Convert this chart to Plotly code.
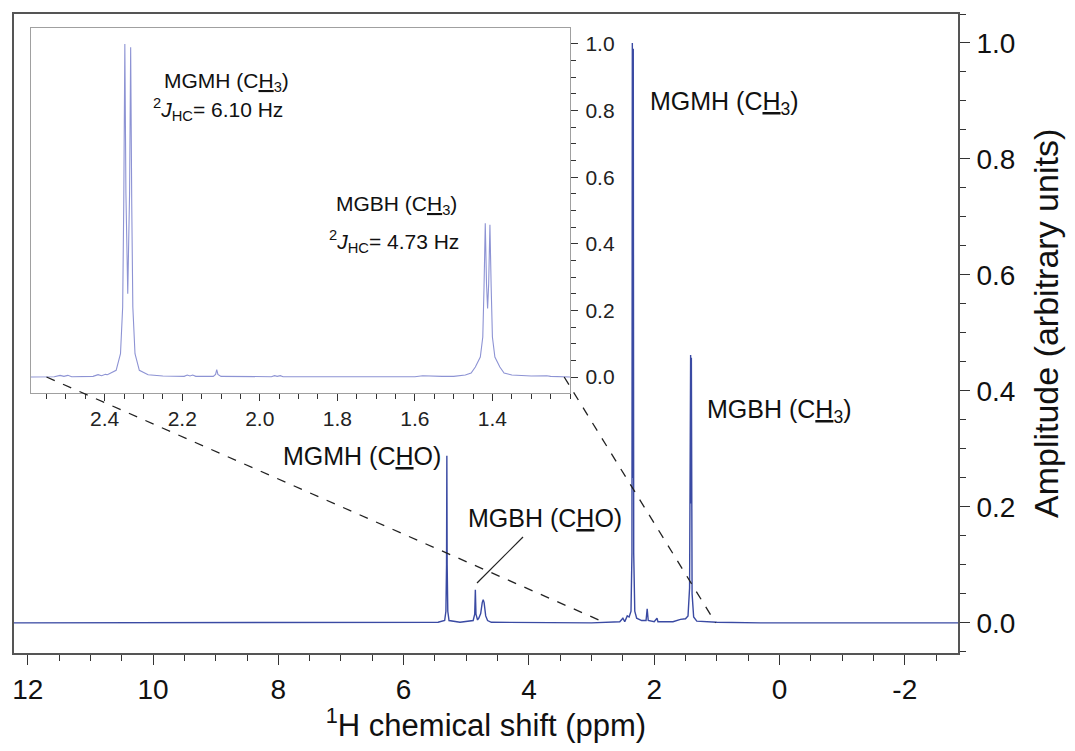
import plotly.graph_objects as go

# ---------------- data ----------------
# full spectrum (main panel): chemical shift (ppm) and normalized amplitude
main_ppm = [12.22, 9.0, 6.0, 5.45, 5.345, 5.325, 5.315, 5.310, 5.305, 5.295, 5.275,
            5.10, 4.89, 4.865, 4.855, 4.845, 4.82, 4.80, 4.77, 4.745, 4.73, 4.715,
            4.69, 4.66, 4.60, 3.0, 2.55, 2.50, 2.47, 2.43, 2.40, 2.37, 2.355, 2.349,
            2.3405, 2.334, 2.327, 2.31, 2.28, 2.20, 2.13, 2.112, 2.095, 2.0, 1.955,
            1.94, 1.70, 1.58, 1.50, 1.46, 1.435, 1.4185, 1.4125, 1.4065, 1.395, 1.37,
            1.32, 1.0, 0.3, -1.5, -2.85]
main_amp = [0.0, 0.0, 0.0, 0.001, 0.004, 0.02, 0.10, 0.288, 0.10, 0.02, 0.004,
            0.001, 0.004, 0.015, 0.057, 0.015, 0.005, 0.008, 0.016, 0.035, 0.040, 0.035,
            0.012, 0.004, 0.001, 0.0, 0.002, 0.008, 0.002, 0.012, 0.010, 0.02, 0.12, 1.0,
            0.25, 0.99, 0.12, 0.02, 0.008, 0.004, 0.004, 0.024, 0.004, 0.002, 0.008,
            0.002, 0.002, 0.006, 0.007, 0.012, 0.06, 0.462, 0.206, 0.457, 0.05, 0.01,
            0.003, 0.001, 0.0, 0.0, 0.0]

# expanded region (inset): 2.59 - 1.20 ppm
inset_ppm = [2.59, 2.53, 2.515, 2.505, 2.495, 2.485, 2.43, 2.417, 2.408, 2.398, 2.393,
             2.3704, 2.3592, 2.3536, 2.3508, 2.348, 2.3452, 2.3405, 2.3358, 2.333,
             2.3302, 2.3274, 2.3218, 2.3106, 2.288, 2.25, 2.195, 2.187, 2.18, 2.173,
             2.165, 2.12, 2.114, 2.111, 2.108, 2.10, 1.97, 1.962, 1.955, 1.947, 1.94,
             1.60, 1.58, 1.565, 1.555, 1.53, 1.50, 1.47, 1.455, 1.4441, 1.4313, 1.4249,
             1.4217, 1.4185, 1.4153, 1.4125, 1.4097, 1.4065, 1.4033, 1.4001, 1.3937,
             1.3809, 1.37, 1.35, 1.30, 1.26, 1.25, 1.20]
inset_amp = [0.0, 0.001, 0.005, 0.002, 0.005, 0.001, 0.002, 0.007, 0.004, 0.008, 0.007,
             0.02, 0.07, 0.21, 0.52, 1.0, 0.55, 0.25, 0.55, 0.99,
             0.52, 0.21, 0.07, 0.02, 0.007, 0.003, 0.002, 0.006, 0.003, 0.006,
             0.002, 0.002, 0.008, 0.022, 0.008, 0.002, 0.001, 0.004, 0.002, 0.004, 0.001,
             0.001, 0.004, 0.003, 0.004, 0.002, 0.002, 0.006, 0.012, 0.03, 0.06, 0.12,
             0.27, 0.462, 0.28, 0.206, 0.28, 0.457, 0.27, 0.12, 0.06,
             0.03, 0.012, 0.006, 0.003, 0.004, 0.002, 0.0]

main_xticks = [12, 10, 8, 6, 4, 2, 0, -2]
main_yticks = [0.0, 0.2, 0.4, 0.6, 0.8, 1.0]
inset_xticks = [2.4, 2.2, 2.0, 1.8, 1.6, 1.4]
inset_yticks = [0.0, 0.2, 0.4, 0.6, 0.8, 1.0]

# zoom-connector anchors: (inset ppm, main ppm)
zoom_left = (2.55, 2.78)
zoom_right = (1.215, 1.02)

# ---------------- layout geometry ----------------
OFF = 8  # default page body margin in the written html
W, H = 1075 - 2 * OFF, 751 - 2 * OFF
L, R, T, B = 14 - OFF, 958 - OFF, 14 - OFF, 653 - OFF
MX = [12.22, -2.85]
MY = [-0.052, 1.05]
IX = [2.59, 1.20]
IY = [-0.048, 1.048]


def px(x):
    """page pixel (reference picture) -> paper fraction"""
    return (x - OFF - L) / (R - L)


def py(y):
    return (B - (y - OFF)) / (B - T)


IDX = [px(31), px(570)]
IDY = [py(393), py(28)]


def main_paper(xv, yv):
    return ((MX[0] - xv) / (MX[0] - MX[1]), (yv - MY[0]) / (MY[1] - MY[0]))


def inset_paper(xv, yv):
    fx = (IX[0] - xv) / (IX[0] - IX[1])
    fy = (yv - IY[0]) / (IY[1] - IY[0])
    return (IDX[0] + fx * (IDX[1] - IDX[0]), IDY[0] + fy * (IDY[1] - IDY[0]))


FONT = "Liberation Sans, Arial, sans-serif"

fig = go.Figure()
fig.add_trace(go.Scatter(x=main_ppm, y=main_amp, mode="lines",
                         line=dict(color="#3a4aa3", width=1.4),
                         xaxis="x", yaxis="y", showlegend=False))
fig.add_trace(go.Scatter(x=inset_ppm, y=inset_amp, mode="lines",
                         line=dict(color="#8d93d4", width=1.1),
                         xaxis="x2", yaxis="y2", showlegend=False))

fig.update_layout(
    width=W, height=H,
    margin=dict(l=L, r=W - R, t=T, b=H - B, autoexpand=False),
    paper_bgcolor="white", plot_bgcolor="white",
    font=dict(family=FONT, color="#111"),
    xaxis=dict(range=MX, domain=[0, 1], anchor="y",
               tickmode="array", tickvals=main_xticks,
               ticktext=[str(v) for v in main_xticks],
               ticks="outside", ticklen=10, tickwidth=1.3, tickcolor="#333",
               minor=dict(dtick=0.5, tick0=0, ticks="outside", ticklen=6,
                          tickwidth=1.2, tickcolor="#333"),
               showline=True, linecolor="#555", linewidth=1.6, mirror=True,
               showgrid=False, zeroline=False,
               tickfont=dict(size=28, family=FONT, color="#111"),
               ticklabelstandoff=1,
               title=dict(text="<sup>1</sup>H chemical shift (ppm)",
                          font=dict(size=31, family=FONT, color="#111"),
                          standoff=6)),
    yaxis=dict(range=MY, domain=[0, 1], anchor="x", side="right",
               tickmode="array", tickvals=main_yticks,
               ticktext=[f"{v:.1f}" for v in main_yticks],
               ticks="outside", ticklen=10, tickwidth=1.3, tickcolor="#333",
               minor=dict(dtick=0.05, tick0=0, ticks="outside", ticklen=6,
                          tickwidth=1.2, tickcolor="#333"),
               showline=True, linecolor="#555", linewidth=1.6, mirror=True,
               showgrid=False, zeroline=False,
               tickfont=dict(size=28, family=FONT, color="#111"),
               ticklabelstandoff=1),
    xaxis2=dict(range=IX, domain=IDX, anchor="y2",
                tickmode="array", tickvals=inset_xticks,
                ticktext=[f"{v:.1f}" for v in inset_xticks],
                ticks="outside", ticklen=7, tickwidth=1.2, tickcolor="#333",
                minor=dict(dtick=0.05, tick0=0, ticks="outside", ticklen=5,
                           tickwidth=1.1, tickcolor="#333"),
                showline=True, linecolor="#a0a0a0", linewidth=1.4, mirror=True,
                showgrid=False, zeroline=False,
                tickfont=dict(size=21, family=FONT, color="#222"),
                ticklabelstandoff=0),
    yaxis2=dict(range=IY, domain=IDY, anchor="x2", side="right",
                tickmode="array", tickvals=inset_yticks,
                ticktext=[f"{v:.1f}" for v in inset_yticks],
                ticks="outside", ticklen=7, tickwidth=1.2, tickcolor="#333",
                minor=dict(dtick=0.05, tick0=0, ticks="outside", ticklen=5,
                           tickwidth=1.1, tickcolor="#333"),
                showline=True, linecolor="#a0a0a0", linewidth=1.4, mirror=True,
                showgrid=False, zeroline=False,
                tickfont=dict(size=21, family=FONT, color="#222"),
                ticklabelstandoff=3),
)

# zoom connector lines (dashed)
shapes = []
for ins, mn in (zoom_left, zoom_right):
    x0, y0 = inset_paper(ins, 0.0)
    x1, y1 = main_paper(mn, 0.0)
    shapes.append(dict(type="line", xref="paper", yref="paper",
                       x0=x0, y0=y0, x1=x1, y1=y1,
                       line=dict(color="#222", width=1.3, dash="dash")))
# leader line for MGBH (CHO)
shapes.append(dict(type="line", xref="paper", yref="paper",
                   x0=px(477), y0=py(583), x1=px(523), y1=py(537),
                   line=dict(color="#222", width=1.2)))
fig.update_layout(shapes=shapes)

ann = []


def label(text, x, y, size, anchor="left", angle=0):
    ann.append(dict(text=text, xref="paper", yref="paper", x=px(x), y=py(y),
                    xanchor=anchor, yanchor="middle", showarrow=False,
                    textangle=angle,
                    font=dict(size=size, family=FONT, color="#111")))


label("MGMH (C<u>H</u><sub>3</sub>)", 648, 103, 25)
label("MGBH (C<u>H</u><sub>3</sub>)", 705, 411, 25)
label("MGMH (C<u>H</u>O)", 281, 456, 25)
label("MGBH (C<u>H</u>O)", 466, 518, 25)
label("MGMH (C<u>H</u><sub>3</sub>)", 162, 82, 21)
label("<sup>2</sup><i>J</i><sub>HC</sub>= 6.10 Hz", 151, 110, 21)
label("MGBH (C<u>H</u><sub>3</sub>)", 334, 205, 21)
label("<sup>2</sup><i>J</i><sub>HC</sub>= 4.73 Hz", 327, 241, 21)
# y-axis title
label("Amplitude (arbitrary units)", 1046, 324, 34, anchor="center", angle=-90)
fig.update_layout(annotations=ann)

fig.write_html("out.html")
